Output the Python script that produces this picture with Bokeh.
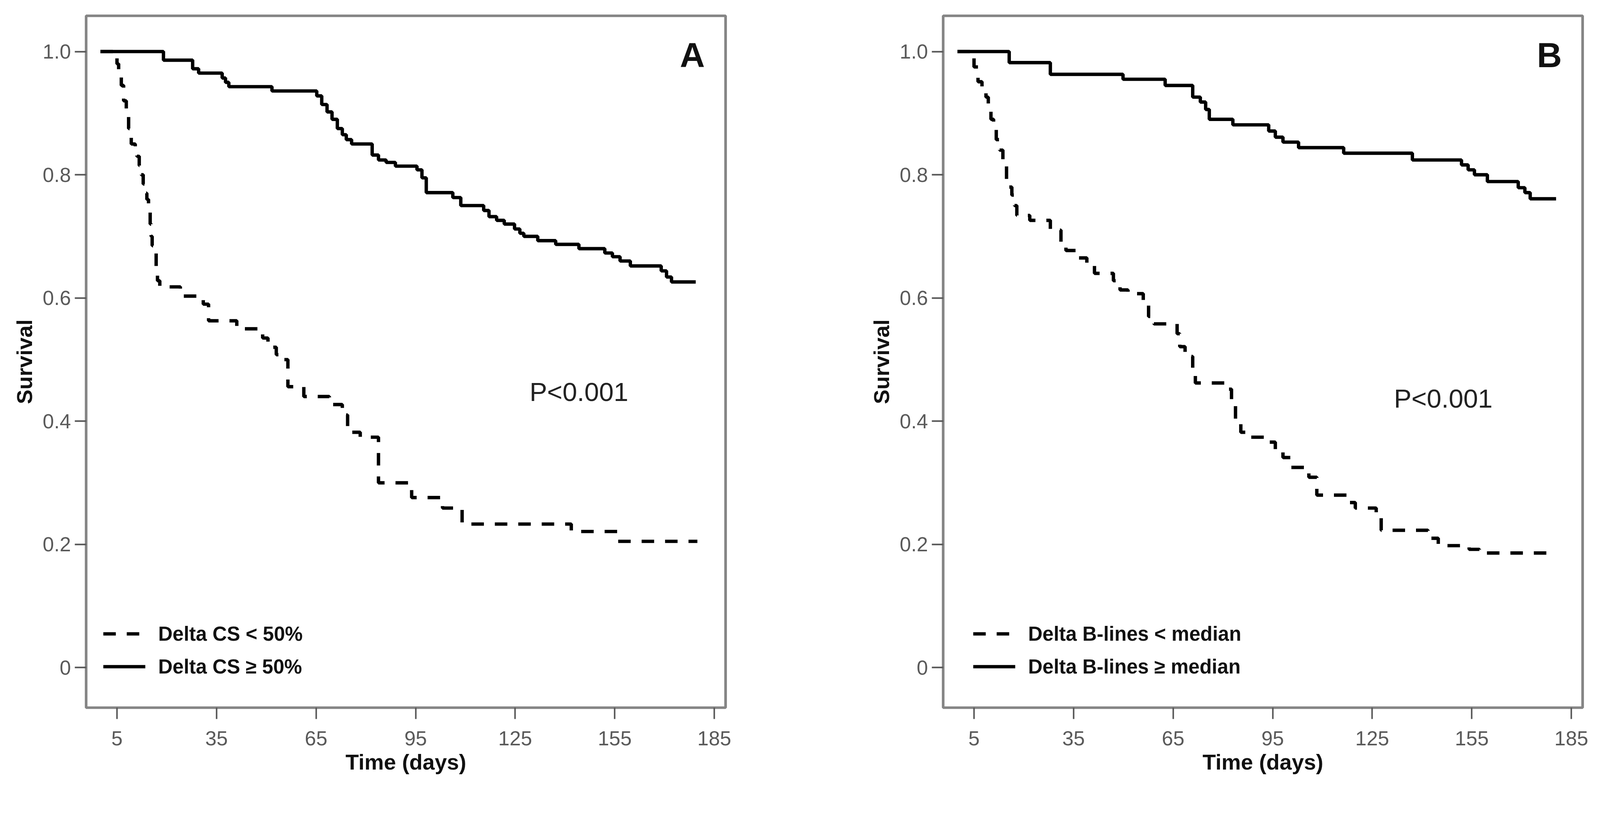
from bokeh.plotting import figure
from bokeh.layouts import row
from bokeh.models import (Range1d, FixedTicker, Label, Legend, LegendItem,
                          ColumnDataSource)
from bokeh.embed import file_html
from bokeh.resources import INLINE

# ---------------- data ----------------
x_ticks = [5, 35, 65, 95, 125, 155, 185]
y_ticks = [0, 0.2, 0.4, 0.6, 0.8, 1.0]
y_tick_labels = ["0", "0.2", "0.4", "0.6", "0.8", "1.0"]

# Panel A: Delta CS < 50% (dashed)
tA_low = [0, 5.0, 5.5, 6.3, 7.0, 7.8, 8.5, 9.3, 10.5, 11.0, 11.7, 12.3, 12.9, 13.5, 14.0, 14.5,
          15.0, 15.3, 15.6, 16.3, 16.8, 17.2, 17.9, 24.1, 31.0, 32.6, 41.1, 48.9, 50.5, 53.0,
          55.0, 56.5, 61.3, 69.0, 72.9, 74.5, 75.2, 78.3, 83.8, 93.8, 103.1, 109.0, 141.9,
          155.9, 179.9]
sA_low = [1.0, 0.98, 0.96, 0.945, 0.92, 0.9, 0.875, 0.85, 0.845, 0.83, 0.815, 0.8, 0.785, 0.77,
          0.76, 0.745, 0.72, 0.7, 0.685, 0.675, 0.65, 0.628, 0.618, 0.603, 0.59, 0.563, 0.55,
          0.535, 0.52, 0.508, 0.5, 0.456, 0.44, 0.427, 0.41, 0.39, 0.382, 0.374, 0.3, 0.276,
          0.259, 0.233, 0.221, 0.205, 0.205]
# Panel A: Delta CS >= 50% (solid)
tA_high = [0, 19, 27.8, 29.6, 36.7, 37.7, 38.7, 51.7, 65.2, 66.7, 68.3, 69.8, 71.4, 72.9, 74.1,
           75.7, 81.9, 83.8, 86.1, 88.9, 95.4, 96.9, 98.2, 106.2, 108.6, 115.5, 117.1, 119.4,
           121.7, 124.8, 126.4, 127.6, 131.8, 137.2, 144.2, 152.0, 154.3, 156.6, 159.7, 169.0,
           170.6, 172.1, 179.4]
sA_high = [1.0, 0.986, 0.972, 0.965, 0.957, 0.95, 0.943, 0.936, 0.928, 0.914, 0.902, 0.89, 0.875,
           0.865, 0.857, 0.85, 0.832, 0.824, 0.82, 0.814, 0.808, 0.795, 0.771, 0.763, 0.75,
           0.742, 0.732, 0.726, 0.72, 0.712, 0.705, 0.7, 0.693, 0.687, 0.68, 0.673, 0.667, 0.66,
           0.652, 0.644, 0.634, 0.626, 0.626]

# Panel B: Delta B-lines < median (dashed)
tB_low = [0, 5.0, 6.2, 7.4, 8.6, 9.3, 10.1, 10.9, 11.7, 12.7, 13.7, 14.8, 15.6, 16.4, 17.2, 17.9,
          21.8, 28.0, 31.2, 32.7, 36.6, 39.0, 41.3, 47.0, 49.0, 51.4, 56.0, 57.6, 59.2, 66.2,
          67.0, 68.6, 70.9, 71.7, 81.0, 82.6, 83.8, 85.4, 87.2, 92.7, 95.8, 98.1, 100.5, 105.9,
          108.3, 117.6, 119.9, 126.2, 127.7, 141.8, 144.9, 154.2, 157.3, 179.1]
sB_low = [1.0, 0.975, 0.951, 0.94, 0.926, 0.91, 0.89, 0.875, 0.857, 0.84, 0.824, 0.791, 0.78,
          0.767, 0.75, 0.734, 0.726, 0.71, 0.685, 0.677, 0.665, 0.656, 0.64, 0.628, 0.613,
          0.607, 0.595, 0.57, 0.558, 0.542, 0.521, 0.505, 0.48, 0.462, 0.452, 0.431, 0.398,
          0.382, 0.374, 0.366, 0.354, 0.341, 0.325, 0.309, 0.28, 0.268, 0.259, 0.243, 0.223,
          0.21, 0.198, 0.192, 0.186, 0.186]
# Panel B: Delta B-lines >= median (solid)
tB_high = [0, 15.6, 28.0, 49.9, 62.6, 70.9, 73.2, 74.8, 75.9, 83.0, 93.8, 95.8, 98.1, 102.8,
           116.4, 137.1, 151.9, 153.9, 155.8, 159.7, 169.0, 171.0, 172.6, 180.4]
sB_high = [1.0, 0.982, 0.963, 0.955, 0.945, 0.926, 0.918, 0.906, 0.89, 0.881, 0.871, 0.861,
           0.853, 0.844, 0.835, 0.824, 0.816, 0.808, 0.8, 0.789, 0.779, 0.771, 0.761, 0.761]

panel_letters = ["A", "B"]
legend_labels_A = ["Delta CS < 50%", "Delta CS \u2265 50%"]
legend_labels_B = ["Delta B-lines < median", "Delta B-lines \u2265 median"]
p_text = "P<0.001"

FONT = "Liberation Sans"
S = 0.962  # global pixel scale


def px(v):
    return int(round(v * S))


def fs(v):
    return f"{v * S:.1f}px"


def make_panel(t_low, s_low, t_high, s_high, labels, letter, p_pos, legend_x,
               border_left, border_right):
    p = figure(output_backend="svg", toolbar_location=None,
               frame_width=px(1702), frame_height=px(1842),
               min_border_left=px(border_left), min_border_right=px(border_right),
               min_border_top=px(42), min_border_bottom=px(200),
               x_range=Range1d(-4.3, 188.4), y_range=Range1d(-0.065, 1.058),
               background_fill_color="white", border_fill_color="white")
    p.grid.visible = False
    p.outline_line_color = "#858585"
    p.outline_line_width = 7 * S

    for ax in (p.xaxis[0], p.yaxis[0]):
        ax.axis_line_color = None
        ax.major_tick_out = px(30)
        ax.major_tick_in = 0
        ax.major_tick_line_color = "#555555"
        ax.major_tick_line_width = 4 * S
        ax.minor_tick_line_color = None
        ax.major_label_text_font = FONT
        ax.major_label_text_font_size = fs(54)
        ax.major_label_text_color = "#5a5a5a"
        ax.axis_label_text_font = FONT
        ax.axis_label_text_font_size = fs(58)
        ax.axis_label_text_font_style = "bold"
        ax.axis_label_text_color = "#111111"

    p.xaxis.ticker = FixedTicker(ticks=x_ticks)
    p.yaxis.ticker = FixedTicker(ticks=y_ticks)
    p.yaxis.major_label_overrides = {v: s for v, s in zip(y_ticks, y_tick_labels)}
    p.xaxis.axis_label = "Time (days)"
    p.yaxis.axis_label = "Survival"
    p.xaxis.major_label_standoff = px(32)
    p.yaxis.major_label_standoff = px(10)
    p.xaxis.axis_label_standoff = px(8)
    p.yaxis.axis_label_standoff = px(12)

    src_low = ColumnDataSource(dict(t=t_low, s=s_low))
    src_high = ColumnDataSource(dict(t=t_high, s=s_high))
    r_low = p.step("t", "s", source=src_low, mode="after", line_color="black",
                   line_width=9 * S, line_dash="32 28")
    r_high = p.step("t", "s", source=src_high, mode="after", line_color="black",
                    line_width=9 * S)

    legend = Legend(items=[LegendItem(label=labels[0], renderers=[r_low]),
                           LegendItem(label=labels[1], renderers=[r_high])],
                    location=(px(legend_x), px(78)), orientation="vertical",
                    glyph_width=px(112), glyph_height=px(62), label_height=px(62),
                    label_standoff=px(34), spacing=px(25), padding=0, margin=0,
                    border_line_color=None, background_fill_alpha=0,
                    label_text_font=FONT, label_text_font_size=fs(53),
                    label_text_font_style="bold", label_text_color="#111111")
    p.add_layout(legend)

    p.add_layout(Label(x=178.4, y=0.994, text=letter, text_font=FONT,
                       text_font_size=fs(92), text_font_style="bold",
                       text_align="center", text_baseline="middle",
                       text_color="#111111"))
    p.add_layout(Label(x=p_pos[0], y=p_pos[1], text=p_text, text_font=FONT,
                       text_font_size=fs(70), text_align="center",
                       text_baseline="middle", text_color="#222222"))
    return p


pA = make_panel(tA_low, sA_low, tA_high, sA_high, legend_labels_A, panel_letters[0],
                (144.2, 0.448), 46, 229, 201)
pB = make_panel(tB_low, sB_low, tB_high, sB_high, legend_labels_B, panel_letters[1],
                (146.4, 0.437), 80, 378, 52)

layout = row(pA, pB, spacing=0)
open("out.html", "w").write(file_html(layout, INLINE))
